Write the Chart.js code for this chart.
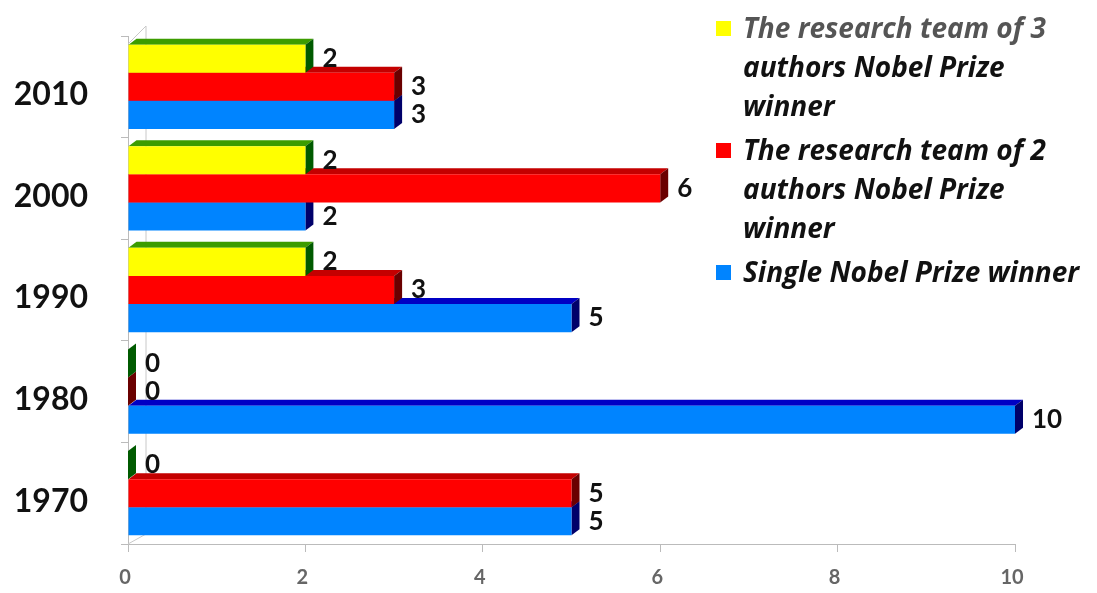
<!DOCTYPE html>
<html>
<head>
<meta charset="utf-8">
<script src="https://cdn.jsdelivr.net/npm/chart.js@4.4.0/dist/chart.umd.min.js"></script>
<style>
html, body { margin: 0; padding: 0; background: #fff; }
#wrap { position: relative; width: 1097px; height: 593px; }
#legend { position: absolute; left: 716px; top: 8px; font-family: 'Open Sans', sans-serif; font-weight: bold; font-style: italic; font-size: 28px; line-height: 39px; color: #111; white-space: nowrap; }
.item { position: relative; padding-left: 27px; margin-bottom: 5px; }
.box { position: absolute; left: 0; top: 13px; width: 15px; height: 15px; }
.line { display: block; }
</style>
</head>
<body>
<div id="wrap">
  <canvas id="myChart" width="1097" height="593"></canvas>
  <div id="legend"></div>
</div>
<script>
// Data (top to bottom, as drawn)
var years = ['2010', '2000', '1990', '1980', '1970'];
var seriesNames = [
    'The research team of 3\nauthors Nobel Prize\nwinner',
    'The research team of 2\nauthors Nobel Prize\nwinner',
    'Single Nobel Prize winner'
];
var threeAuthors = [2, 2, 2, 0, 0];
var twoAuthors = [3, 6, 3, 0, 5];
var singleWinner = [3, 2, 5, 10, 5];
var xTicks = [0, 2, 4, 6, 8, 10];

// Colours: front, top face, side face
var frontColors = ['#ffff00', '#ff0000', '#0084ff'];
var topColors = ['#3c9c00', '#c40000', '#0000c4'];
var sideColors = ['#005a00', '#6a0000', '#00006a'];
var depthX = 8, depthY = 6;

var bar3d = {
    id: 'bar3d',
    beforeDatasetsDraw: function(chart) {
        var ctx = chart.ctx;
        var area = chart.chartArea;
        ctx.save();
        // back wall edge
        ctx.strokeStyle = '#c8c8c8';
        ctx.lineWidth = 1;
        ctx.beginPath();
        ctx.moveTo(area.left, area.top + 8);
        ctx.lineTo(area.left + 18, area.top - 10);
        ctx.lineTo(area.left + 18, area.bottom - 10);
        ctx.lineTo(area.left, area.bottom);
        ctx.stroke();
        // depth faces, lower bars first
        for (var d = chart.data.datasets.length - 1; d >= 0; d--) {
            var meta = chart.getDatasetMeta(d);
            meta.data.forEach(function(bar) {
                var p = bar.getProps(['x', 'y', 'base', 'height'], true);
                var top = p.y - p.height / 2, bottom = p.y + p.height / 2;
                ctx.fillStyle = topColors[d];
                ctx.beginPath();
                ctx.moveTo(p.base, top);
                ctx.lineTo(p.x, top);
                ctx.lineTo(p.x + depthX, top - depthY);
                ctx.lineTo(p.base + depthX, top - depthY);
                ctx.closePath();
                ctx.fill();
                ctx.fillStyle = sideColors[d];
                ctx.beginPath();
                ctx.moveTo(p.x, top);
                ctx.lineTo(p.x + depthX, top - depthY);
                ctx.lineTo(p.x + depthX, bottom - depthY);
                ctx.lineTo(p.x, bottom);
                ctx.closePath();
                ctx.fill();
            });
        }
        ctx.restore();
    },
    afterDatasetsDraw: function(chart) {
        var ctx = chart.ctx;
        ctx.save();
        ctx.font = 'bold 26px Lato';
        ctx.fillStyle = '#111';
        ctx.textBaseline = 'middle';
        ctx.textAlign = 'left';
        chart.data.datasets.forEach(function(ds, d) {
            chart.getDatasetMeta(d).data.forEach(function(bar, i) {
                var p = bar.getProps(['x', 'y'], true);
                ctx.fillText(ds.data[i], p.x + 17, p.y);
            });
        });
        ctx.restore();
    }
};

var seriesData = [threeAuthors, twoAuthors, singleWinner];
var datasets = seriesData.map(function(values, i) {
    return {
        label: seriesNames[i],
        data: values,
        backgroundColor: frontColors[i],
        borderWidth: 0
    };
});

var ctx = document.getElementById('myChart').getContext('2d');
var myChart = new Chart(ctx, {
    type: 'bar',
    data: { labels: years, datasets: datasets },
    plugins: [bar3d],
    options: {
        indexAxis: 'y',
        responsive: false,
        animation: false,
        layout: { padding: { top: 36, right: 82, bottom: 0, left: 0 } },
        datasets: { bar: { categoryPercentage: 0.83, barPercentage: 1 } },
        plugins: {
            legend: { display: false },
            tooltip: { enabled: false }
        },
        scales: {
            x: {
                min: 0,
                max: 10,
                afterBuildTicks: function(scale) {
                    scale.ticks = xTicks.map(function(v) { return { value: v }; });
                },
                ticks: { color: '#666', font: { family: 'Lato', size: 20, weight: 'bold' }, padding: 14, labelOffset: -3 },
                grid: { drawOnChartArea: false, tickLength: 8, color: '#bbb' },
                border: { color: '#bbb' },
                afterFit: function(scale) { scale.height = 49; }
            },
            y: {
                ticks: { color: '#111', font: { family: 'Lato', size: 32, weight: 'bold' }, padding: 33, labelOffset: 8 },
                grid: { drawOnChartArea: false, tickLength: 7, color: '#bbb' },
                border: { color: '#bbb' },
                afterFit: function(scale) {
                    scale.width = 128;
                    scale.paddingTop = 0;
                    scale.paddingBottom = 0;
                }
            }
        }
    }
});

// Legend built from the datasets
var legend = document.getElementById('legend');
datasets.forEach(function(ds, n) {
    var item = document.createElement('div');
    item.className = 'item';
    var box = document.createElement('span');
    box.className = 'box';
    box.style.background = ds.backgroundColor;
    item.appendChild(box);
    ds.label.split('\n').forEach(function(text, k) {
        var line = document.createElement('span');
        line.className = 'line';
        if (n === 0 && k === 0) line.style.color = '#555';
        line.textContent = text;
        item.appendChild(line);
    });
    legend.appendChild(item);
});
</script>
</body>
</html>
